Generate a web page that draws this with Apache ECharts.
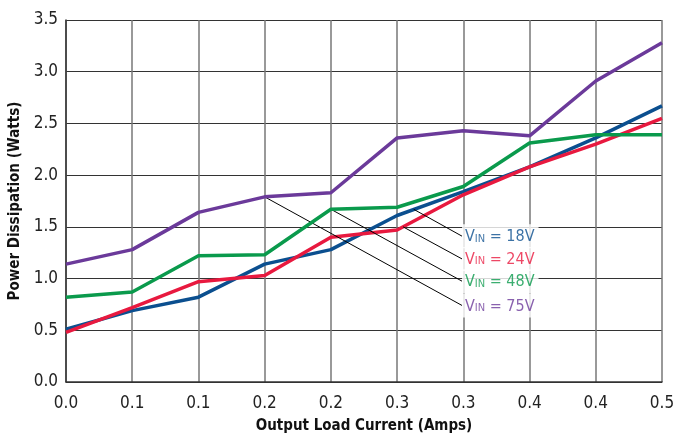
<!DOCTYPE html>
<html><head><meta charset="utf-8">
<script src="https://cdn.jsdelivr.net/npm/echarts@6/dist/echarts.min.js"></script>
<style>html,body{margin:0;padding:0;background:#fff}#c{width:678px;height:434px}</style>
</head><body><div id="c"></div>
<script>
var xLabels = ['0.0','0.1','0.1','0.2','0.2','0.3','0.3','0.4','0.4','0.5'];
var yTicks = [0,0.5,1.0,1.5,2.0,2.5,3.0,3.5];
var v18 = [0.51,0.69,0.82,1.14,1.28,1.61,1.84,2.08,2.36,2.67];
var v24 = [0.48,0.72,0.97,1.03,1.40,1.47,1.81,2.08,2.30,2.55];
var v48 = [0.82,0.87,1.22,1.23,1.67,1.69,1.89,2.31,2.39,2.39];
var v75 = [1.14,1.28,1.64,1.79,1.83,2.36,2.43,2.38,2.91,3.28];
var names = ['18V','24V','48V','75V'];
var colors = ['#0b4f8f','#e8193f','#0a9a4c','#6b3a9a'];
// leader lines: [startX, startY] -> [endX, endY] in data units
var leaderStart = [[5.25,1.67],[5.09,1.50],[4,1.67],[3,1.79]];
var leaderEnd = [[5.98,1.41],[5.98,1.19],[5.98,0.975],[5.98,0.74]];

var FONT = '"Liberation Sans Narrow","DejaVu Sans Condensed","Liberation Sans",sans-serif';
var all = [v18,v24,v48,v75];
function pts(arr){return arr.map(function(v,i){return [i,v];});}
var series = all.map(function(arr,k){
  return {type:'line',name:names[k],data:pts(arr),showSymbol:false,symbol:'none',
    lineStyle:{color:colors[k],width:3.5},z:3+k,animation:false};
});
series.push({type:'line',data:[],z:10,animation:false,
  markLine:{silent:true,symbol:'none',label:{show:false},
    lineStyle:{color:'#000',width:1,type:'solid'},
    data:leaderStart.map(function(s,i){return [{coord:s},{coord:leaderEnd[i]}];})}});
series.push({type:'scatter',symbolSize:0,z:11,animation:false,
  data:leaderEnd.map(function(e,i){return {value:e,
    label:{show:true,position:'right',distance:0,
      formatter:'{v|V}{s|IN}{v| = '+names[i]+'}',
      backgroundColor:'#fff',padding:[3,4,3,3],
      rich:{v:{color:colors[i],fontSize:16,fontFamily:FONT,lineHeight:18,verticalAlign:'bottom'},
            s:{color:colors[i],fontSize:11,fontFamily:FONT,lineHeight:18,verticalAlign:'bottom',padding:[0,0,1,0]}}}};})});

var chart = echarts.init(document.getElementById('c'),null,{renderer:'canvas'});
chart.setOption({
  backgroundColor:'#fff',animation:false,
  grid:{left:66,right:16,top:20,bottom:52,containLabel:false,outerBoundsMode:'none'},
  xAxis:{type:'value',min:0,max:9,interval:1,
    name:'Output Load Current (Amps)',nameLocation:'middle',nameGap:37,
    nameTextStyle:{fontFamily:FONT,fontWeight:'bold',fontSize:15,color:'#111'},
    axisLine:{show:true,lineStyle:{color:'#333',width:1.5}},axisTick:{show:false},
    axisLabel:{margin:13,fontFamily:FONT,fontSize:17,color:'#222',formatter:function(v){return xLabels[v];}},
    splitLine:{show:true,lineStyle:{color:'#777',width:1.5}}},
  yAxis:{type:'value',min:yTicks[0],max:yTicks[yTicks.length-1],interval:0.5,
    name:'Power Dissipation (Watts)',nameLocation:'middle',nameGap:40,
    nameTextStyle:{fontFamily:FONT,fontWeight:'bold',fontSize:15,color:'#111'},
    axisLine:{show:true,lineStyle:{color:'#333',width:1.5}},axisTick:{show:false},
    axisLabel:{margin:8,fontFamily:FONT,fontSize:17,color:'#222',formatter:function(v){return v.toFixed(1);}},
    splitLine:{show:true,lineStyle:{color:'#333',width:1}}},
  series:series
});
</script></body></html>
